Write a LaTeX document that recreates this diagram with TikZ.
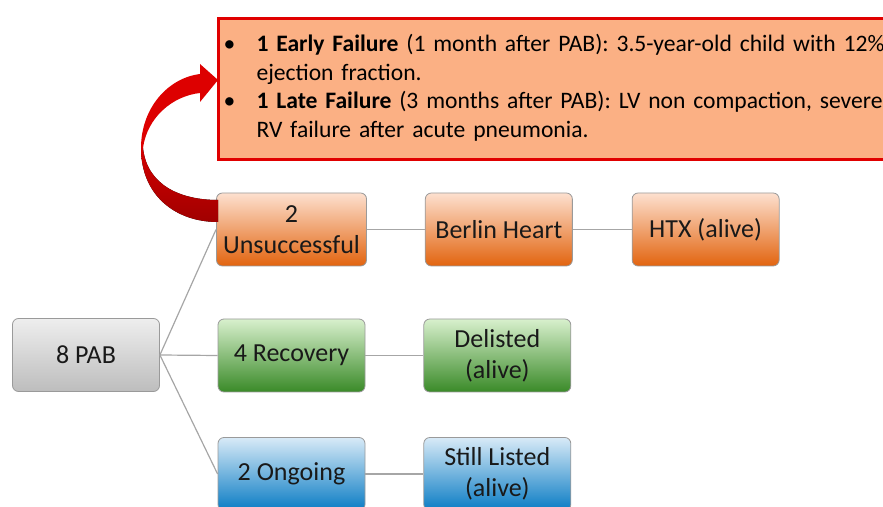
\documentclass[tikz,border=0pt]{standalone}
\usepackage{fontspec}
\setmainfont{Carlito}
\usepackage{xcolor}
\usetikzlibrary{positioning}
\definecolor{notefill}{HTML}{FBB084}
\definecolor{notered}{HTML}{E00000}
\definecolor{arrowred}{HTML}{DD0000}
\definecolor{arrowdark}{HTML}{A00000}
\definecolor{linkgray}{HTML}{A6A6A6}
\definecolor{boxedge}{HTML}{9A9A9A}
\definecolor{orangetop}{HTML}{FDE0CF}
\definecolor{orangebot}{HTML}{E2640F}
\definecolor{greentop}{HTML}{D8F0CD}
\definecolor{greenbot}{HTML}{3A8A28}
\definecolor{bluetop}{HTML}{D8EAF7}
\definecolor{bluebot}{HTML}{0A7CC4}
\definecolor{graytop}{HTML}{EEEEEE}
\definecolor{graybot}{HTML}{BDBDBD}

\begin{document}
\begin{tikzpicture}[x=0.5pt,y=-0.5pt,
    box/.style={rounded corners=3pt,draw=boxedge,line width=0.4pt,
      minimum width=73.5pt,minimum height=36.5pt,align=center,
      font=\fontsize{13}{15.5}\selectfont,text=black!90},
    graybox/.style={box,top color=graytop,bottom color=graybot},
    orangebox/.style={box,top color=orangetop,bottom color=orangebot},
    greenbox/.style={box,top color=greentop,bottom color=greenbot},
    bluebox/.style={box,top color=bluetop,bottom color=bluebot},
    link/.style={draw=linkgray,line width=0.6pt}]
  \useasboundingbox (0,0) rectangle (883,507);
  \clip (0,0) rectangle (883,507);
  % failure details
  \node[draw=notered,line width=1.5pt,fill=notefill,anchor=north west,
    minimum width=345pt,minimum height=70.5pt,inner xsep=1pt,
    text width=340pt,align=left,font=\fontsize{11.8}{14.25}\selectfont]
    (note) at (217,17) {%
    \begin{tabular}{@{}p{16.5pt}@{}l@{}}
      \textbullet & \textbf{1 Early Failure} (1 month after PAB): 3.5-year-old child with 12\% \\
                  & ejection fraction. \\
      \textbullet & \textbf{1 Late Failure} (3 months after PAB): LV non compaction, severe \\
                  & RV failure after acute pneumonia.
    \end{tabular}};
  % tree
  \node[graybox] (pab) at (86,355) {8 PAB};
  \node[orangebox] (unsucc) at (291.5,229.5) {2\\Unsuccessful};
  \node[orangebox,right=29pt of unsucc] (berlin) {Berlin Heart};
  \node[orangebox,right=29.5pt of berlin] (htx) {HTX (alive)};
  \node[greenbox] (recov) at (291.5,355.5) {4 Recovery};
  \node[greenbox,right=29pt of recov] (delist) {Delisted\\(alive)};
  \node[bluebox] (ongo) at (291.5,474) {2 Ongoing};
  \node[bluebox,right=29pt of ongo] (still) {Still Listed\\(alive)};
  \draw[link] (pab.east) -- (unsucc.west);
  \draw[link] (pab.east) -- (recov.west);
  \draw[link] (pab.east) -- (ongo.west);
  \draw[link] (unsucc) -- (berlin);
  \draw[link] (berlin) -- (htx);
  \draw[link] (recov) -- (delist);
  \draw[link] (ongo) -- (still);
  % curved red arrow (back half, then front half with head)
  \fill[top color=arrowred!85!arrowdark,bottom color=arrowdark]
    (141,148) .. controls (141,195) and (175,222) .. (218,222)
    -- (218,200) .. controls (180,200) and (147,185) .. (143,148) -- cycle;
  \fill[arrowred]
    (141,148) .. controls (141,108) and (168,78) .. (200,74)
    -- (200,64) -- (218,80) -- (200,102) -- (200,93)
    .. controls (172,96) and (147,118) .. (143,148) -- cycle;
\end{tikzpicture}
\end{document}
